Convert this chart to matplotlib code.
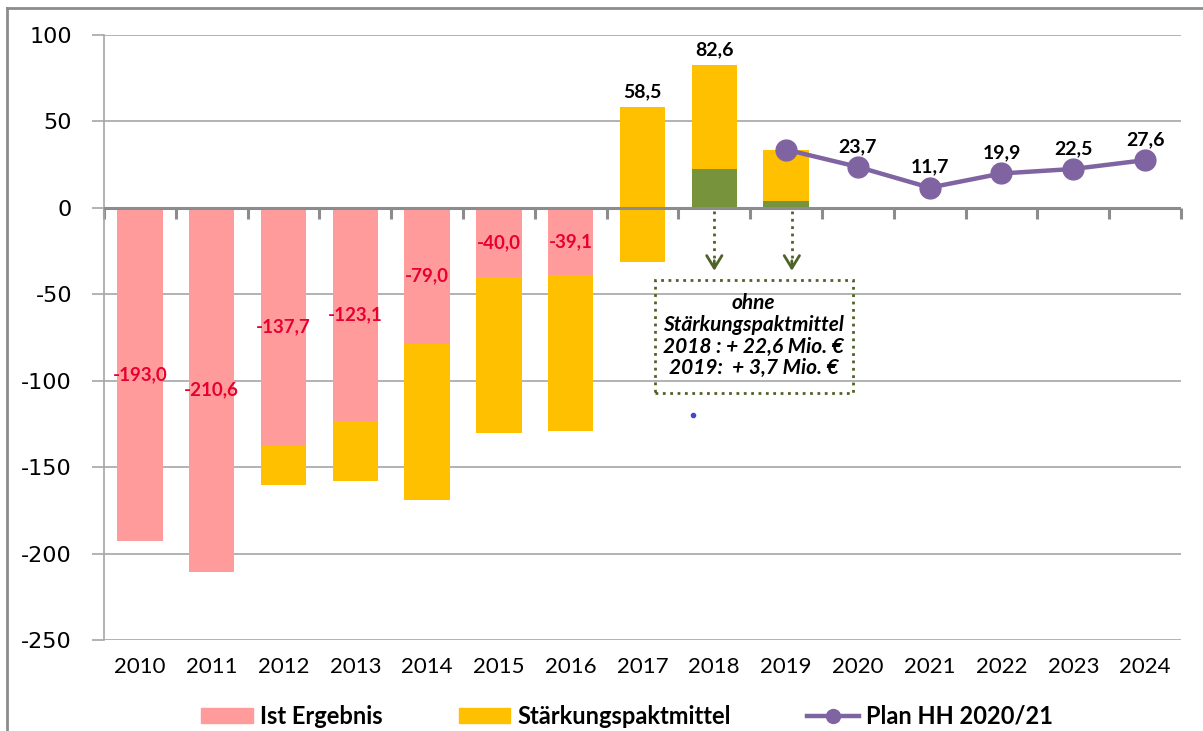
import numpy as np
import matplotlib
matplotlib.use("Agg")
import matplotlib.pyplot as plt
from matplotlib.patches import Patch, Rectangle
from matplotlib.lines import Line2D

years = ["2010", "2011", "2012", "2013", "2014", "2015", "2016", "2017",
         "2018", "2019", "2020", "2021", "2022", "2023", "2024"]
ist = [-193.0, -210.6, -137.7, -123.1, -79.0, -40.0, -39.1,
       np.nan, np.nan, np.nan, np.nan, np.nan, np.nan, np.nan, np.nan]
stk_low = [np.nan, np.nan, -160.2, -158.0, -169.0, -130.2, -129.0,
           -31.2, 22.6, 3.7, np.nan, np.nan, np.nan, np.nan, np.nan]
stk_high = [np.nan, np.nan, -137.7, -123.1, -79.0, -40.0, -39.1,
            58.5, 82.6, 33.7, np.nan, np.nan, np.nan, np.nan, np.nan]
ohne = [np.nan] * 8 + [22.6, 3.7] + [np.nan] * 5
plan = [np.nan] * 9 + [33.7, 23.7, 11.7, 19.9, 22.5, 27.6]
top_labels = [np.nan] * 7 + [58.5, 82.6] + [np.nan] * 6
plan_labels = [np.nan] * 10 + [23.7, 11.7, 19.9, 22.5, 27.6]

PINK = "#FF9B9B"
YELLOW = "#FFC000"
GREEN = "#77933C"
PURPLE = "#8064A2"
OLIVE = "#4F6228"
RED = "#E8002E"
GRID = "#A6A6A6"

def fmt(v):
    return f"{v:.1f}".replace(".", ",")

fig = plt.figure(figsize=(12.03, 7.31), dpi=100)
ax = fig.add_axes([104 / 1203, 1 - 640 / 731, (1181 - 104) / 1203, (640 - 35) / 731])

x = np.arange(len(years))
ist_a = np.array(ist)
low = np.array(stk_low)
high = np.array(stk_high)
ohne_a = np.array(ohne)
plan_a = np.array(plan)
W = 0.63

ax.bar(x, ist_a, width=W, color=PINK, zorder=2)
ax.bar(x, high - low, bottom=low, width=W, color=YELLOW, zorder=2)
ax.bar(x, ohne_a, width=W, color=GREEN, zorder=3)
ax.plot(x, plan_a, color=PURPLE, lw=3.2, marker="o", ms=15, zorder=4)

# labels
for xi, v in zip(x, ist):
    if not np.isnan(v):
        ax.text(xi, v / 2, fmt(v), ha="center", va="center", color=RED,
                fontsize=13.5, fontweight="bold", family="Lato", zorder=5)
for xi, v in zip(x, top_labels):
    if not np.isnan(v):
        ax.text(xi, v + 4, fmt(v), ha="center", va="bottom", color="black",
                fontsize=14, fontweight="bold", family="Lato", zorder=5)
for xi, v in zip(x, plan_labels):
    if not np.isnan(v):
        ax.text(xi, v + 7, fmt(v), ha="center", va="bottom", color="black",
                fontsize=14, fontweight="bold", family="Lato", zorder=5)

ax.set_xlim(-0.5, len(years) - 0.5)
ax.set_ylim(-250, 100)
ax.set_yticks(np.arange(-250, 101, 50))
ax.set_yticklabels([str(v) for v in range(-250, 101, 50)], fontsize=16,
                   family="DejaVu Sans")
ax.yaxis.grid(True, color=GRID, lw=1.2, zorder=0)
ax.set_axisbelow(True)
ax.set_xticks(x)
ax.set_xticklabels(years, fontsize=16, family="Lato")
ax.tick_params(axis="x", length=0, pad=12)
ax.tick_params(axis="y", length=9, color=GRID, width=1.2, pad=14)
for s in ["top", "right", "bottom"]:
    ax.spines[s].set_visible(False)
ax.spines["left"].set_color(GRID)
ax.spines["left"].set_linewidth(1.2)

# zero axis with boundary ticks
ax.axhline(0, color="#8C8C8C", lw=2.2, zorder=3)
sec = ax.secondary_xaxis(0, transform=ax.transData)
sec.set_xticks(np.arange(-0.5, len(years), 1.0))
sec.set_xticklabels([])
sec.tick_params(length=8, width=2.2, color="#8C8C8C")
sec.spines["bottom"].set_visible(False)

# annotation box
ax.add_patch(Rectangle((7.17, -107.0), 9.93 - 7.17, 65.3, fill=False,
                       ec=OLIVE, ls=":", lw=2, zorder=6))
ax.text(8.55, -74, "ohne\nStärkungspaktmittel\n2018 : + 22,6 Mio. €\n2019:  + 3,7 Mio. €",
        ha="center", va="center", fontsize=15, fontweight="bold", style="italic",
        family="Lato", linespacing=1.1, zorder=6)
for xa in [8, 9.08]:
    ax.plot([xa, xa], [-2, -35], color=OLIVE, ls=":", lw=2, zorder=5)
    ax.annotate("", xy=(xa, -38), xytext=(xa, -29),
                arrowprops=dict(arrowstyle="->,head_length=0.9,head_width=0.55",
                                color=OLIVE, lw=2), zorder=5)
ax.plot([7.70], [-119.7], marker="o", ms=3, color="#3F48CC", zorder=5)

# legend
handles = [Patch(color=PINK), Patch(color=YELLOW),
           Line2D([0], [0], color=PURPLE, lw=3.2, marker="o", ms=10)]
leg = fig.legend(handles, ["Ist Ergebnis", "Stärkungspaktmittel", "Plan HH 2020/21"],
                 loc="center", bbox_to_anchor=(627 / 1203, 1 - 716 / 731), ncol=3,
                 frameon=False, prop=dict(family="Lato", weight="bold", size=17),
                 handlelength=2.2, handleheight=0.6, handletextpad=0.3,
                 columnspacing=3.2, borderpad=0.2)

# figure border (left and top edges)
fig.add_artist(Line2D([7 / 1203, 7 / 1203], [0, 1 - 8 / 731], transform=fig.transFigure,
                      color="#8C8C8C", lw=2))
fig.add_artist(Line2D([7 / 1203, 1], [1 - 8 / 731, 1 - 8 / 731], transform=fig.transFigure,
                      color="#8C8C8C", lw=2))

fig.savefig("out.png", dpi=100)
